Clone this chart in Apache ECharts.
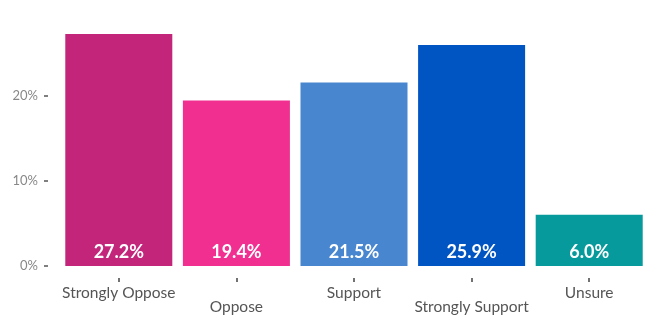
<!DOCTYPE html>
<html>
<head>
<meta charset="utf-8">
<script src="https://cdn.jsdelivr.net/npm/echarts@6/dist/echarts.min.js"></script>
<style>
  html, body { margin: 0; padding: 0; background: #fff; }
  #chart { width: 660px; height: 328px; }
</style>
</head>
<body>
<div id="chart"></div>
<script>
// Survey responses, share of respondents (%)
const categories = ['Strongly Oppose', 'Oppose', 'Support', 'Strongly Support', 'Unsure'];
const shares = [27.2, 19.4, 21.5, 25.9, 6.0];
const barColors = ['#C3257B', '#F02F91', '#4886D0', '#0055C2', '#079A9C'];
const yTickValues = [0, 10, 20];

const FONT = 'Lato, "Open Sans", sans-serif';

const chart = echarts.init(document.getElementById('chart'), null, { renderer: 'canvas' });

chart.setOption({
  animation: false,
  grid: { left: 60, right: 12, top: 34, bottom: 62, containLabel: false },
  xAxis: {
    type: 'category',
    data: categories,
    offset: 12,
    axisLine: { show: false, onZero: false },
    axisTick: { show: true, length: 4, alignWithLabel: true, lineStyle: { color: '#444', width: 1.5 } },
    axisLabel: {
      interval: 0,
      margin: 8,
      color: '#555',
      fontFamily: FONT,
      fontSize: 15.5,
      lineHeight: 14,
      // stagger alternate labels onto a second row
      formatter: (v, i) => (i % 2 === 1 ? '\n' + v : v)
    }
  },
  yAxis: {
    type: 'value',
    min: 0,
    max: 27.2,
    offset: 12,
    splitLine: { show: false },
    axisLine: { show: false, onZero: false },
    axisTick: { show: true, length: 4, customValues: yTickValues, lineStyle: { color: '#555', width: 1.5 } },
    axisLabel: {
      customValues: yTickValues,
      margin: 10,
      color: '#888',
      fontFamily: FONT,
      fontSize: 13,
      formatter: v => v + '%'
    }
  },
  series: [{
    type: 'bar',
    barCategoryGap: '9%',
    data: shares.map((v, i) => ({ value: v, itemStyle: { color: barColors[i] } })),
    label: {
      show: true,
      position: 'insideBottom',
      distance: 5,
      color: '#fff',
      fontFamily: FONT,
      fontWeight: 'bold',
      fontSize: 18,
      formatter: p => p.value.toFixed(1) + '%'
    }
  }]
});
</script>
</body>
</html>
